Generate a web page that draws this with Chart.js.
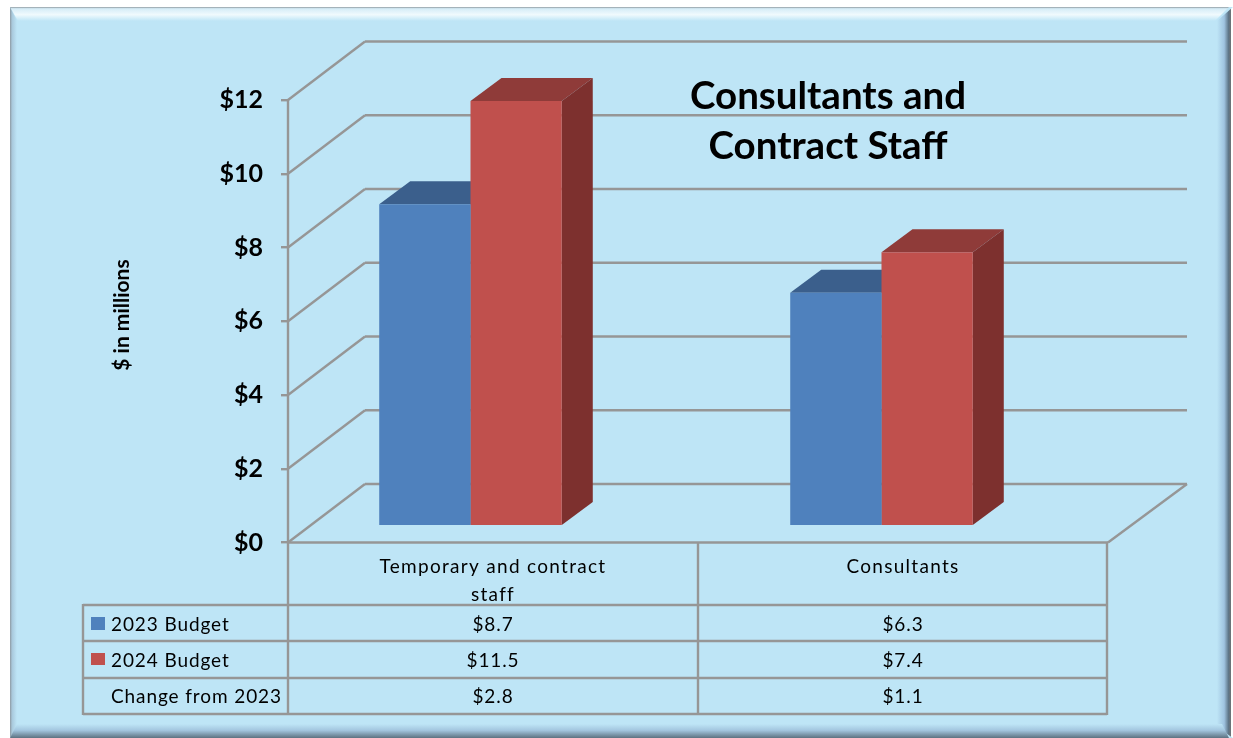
<!DOCTYPE html>
<html>
<head>
<meta charset="utf-8">
<title>Consultants and Contract Staff</title>
<script src="https://cdn.jsdelivr.net/npm/chart.js@4"></script>
<style>
    html, body { margin: 0; padding: 0; background: #fff; }
    canvas { display: block; }
</style>
</head>
<body>
<canvas id="chart" width="1233" height="738"></canvas>
<script>
const categories = [['Temporary and contract', 'staff'], ['Consultants']];
const seriesNames = ['2023 Budget', '2024 Budget'];
const budget2023 = [8.7, 6.3];
const budget2024 = [11.5, 7.4];
const changeLabel = 'Change from 2023';
const change = [2.8, 1.1];
const titleLines = ['Consultants and', 'Contract Staff'];
const yTitle = '$ in millions';

const BLUE = '#4f81bd', RED = '#c0504d';
const LINE = '#969696', BG = '#bee5f6';
const FONT = 'Lato, "Open Sans", sans-serif';
const money = v => '$' + v.toFixed(1);

// axis geometry
const AREA = { left: 288, right: 1108, top: 41, bottom: 542.5 };
const PX_PER_UNIT = 36.875;       // $1M in pixels
const WALL = { dx: 77, dy: 58.5 };   // depth of the back wall
const BAR_DEPTH = { dx: 31, dy: 23 };
const BAR_LIFT = 17.5;            // bars stand this far behind the front edge
const GROUP_GAP = 411, GROUP_0 = 470.5;
const TABLE = { left: 83, mid: 698, right: 1107, rows: [605, 641, 678, 714] };

const seg = (ctx, x1, y1, x2, y2) => {
    ctx.beginPath();
    ctx.moveTo(x1, y1);
    ctx.lineTo(x2, y2);
    ctx.stroke();
};
const poly = (ctx, pts, color) => {
    ctx.fillStyle = color;
    ctx.beginPath();
    pts.forEach((p, i) => i ? ctx.lineTo(p[0], p[1]) : ctx.moveTo(p[0], p[1]));
    ctx.closePath();
    ctx.fill();
};

const framePlugin = {
    id: 'frame',
    beforeDraw(chart) {
        const ctx = chart.ctx;
        const l = 10, t = 7, r = 1233, b = 738;
        ctx.save();
        ctx.fillStyle = BG;
        ctx.fillRect(l, t, r - l, b - t);

        let g = ctx.createLinearGradient(0, t, 0, t + 14);
        g.addColorStop(0, '#8f9aa0');
        g.addColorStop(0.12, '#d5ecf7');
        g.addColorStop(0.55, '#f0fafd');
        g.addColorStop(1, BG);
        poly(ctx, [[l, t], [1229, t], [1215, t + 14], [l + 8, t + 14]], g);

        g = ctx.createLinearGradient(l, 0, l + 7, 0);
        g.addColorStop(0, '#8e9aa2');
        g.addColorStop(0.3, '#a9c9dc');
        g.addColorStop(1, BG);
        poly(ctx, [[l, t], [l + 7, t + 14], [l + 7, 727], [l, b]], g);

        g = ctx.createLinearGradient(1217, 0, 1233, 0);
        g.addColorStop(0, BG);
        g.addColorStop(0.45, '#9fc3e0');
        g.addColorStop(0.72, '#5f7688');
        g.addColorStop(0.85, '#6c7378');
        g.addColorStop(0.86, '#ffffff');
        g.addColorStop(1, '#ffffff');
        poly(ctx, [[1217, t + 14], [1233, t], [1233, b], [1217, 727]], g);

        g = ctx.createLinearGradient(0, 724, 0, 738);
        g.addColorStop(0, BG);
        g.addColorStop(0.45, '#a3c6df');
        g.addColorStop(1, '#5d7281');
        poly(ctx, [[l + 7, 724], [1222, 724], [1229, b], [l, b]], g);

        ctx.restore();
    },
    beforeDatasetsDraw(chart) {
        const ctx = chart.ctx, y = chart.scales.y;
        const y0 = y.getPixelForValue(0), y12 = y.getPixelForValue(12);
        ctx.save();
        ctx.strokeStyle = LINE;
        ctx.lineWidth = 2.4;

        // back wall and left wall
        y.ticks.forEach(t => {
            const py = y.getPixelForValue(t.value);
            seg(ctx, AREA.left, py, AREA.left + WALL.dx, py - WALL.dy);
            seg(ctx, AREA.left + WALL.dx, py - WALL.dy, AREA.right + WALL.dx + 2, py - WALL.dy);
        });
        seg(ctx, AREA.left, y12, AREA.left, TABLE.rows[3]);

        // floor
        seg(ctx, AREA.left, y0, AREA.right, y0);
        seg(ctx, AREA.right, y0, AREA.right + WALL.dx + 2, y0 - WALL.dy);

        // table grid
        TABLE.rows.forEach(r => seg(ctx, TABLE.left, r, TABLE.right, r));
        seg(ctx, TABLE.left, TABLE.rows[0] - 1, TABLE.left, TABLE.rows[3] + 1);
        seg(ctx, TABLE.mid, y0, TABLE.mid, TABLE.rows[3]);
        seg(ctx, TABLE.right, y0, TABLE.right, TABLE.rows[3] + 1);

        // top and side faces of the bars, taken from the bars themselves
        const faces = [['#3b5f8c', '#3b5f8c'], ['#8f3b39', '#7d302e']];
        chart.data.datasets.forEach((ds, d) => {
            chart.getDatasetMeta(d).data.forEach(bar => {
                const x1 = bar.x - bar.width / 2, x2 = bar.x + bar.width / 2;
                const top = bar.y, base = bar.base;
                const dx = BAR_DEPTH.dx, dy = BAR_DEPTH.dy;
                poly(ctx, [[x1, top], [x1 + dx, top - dy], [x2 + dx, top - dy], [x2, top]], faces[d][0]);
                poly(ctx, [[x2, top], [x2 + dx, top - dy], [x2 + dx, base - dy], [x2, base]], faces[d][1]);
            });
        });
        ctx.restore();
    },
    afterDraw(chart) {
        const ctx = chart.ctx;
        const colCentre = [493, 903];
        const rowMid = [625, 661, 697];
        ctx.save();
        ctx.fillStyle = '#000';
        ctx.textBaseline = 'middle';

        // table rows
        ctx.font = '19px ' + FONT;
        ctx.letterSpacing = '0.9px';
        ctx.textAlign = 'left';
        [seriesNames[0], seriesNames[1], changeLabel].forEach((name, i) => ctx.fillText(name, 111, rowMid[i]));
        ctx.textAlign = 'center';
        [budget2023, budget2024, change].forEach((vals, i) => {
            vals.forEach((v, c) => ctx.fillText(money(v), colCentre[c], rowMid[i]));
        });
        ctx.fillStyle = BLUE;
        ctx.fillRect(91, 617, 14, 13);
        ctx.fillStyle = RED;
        ctx.fillRect(91, 653, 14, 12);

        // title
        ctx.letterSpacing = '0px';
        ctx.fillStyle = '#000';
        ctx.font = 'bold 38.5px ' + FONT;
        titleLines.forEach((line, i) => ctx.fillText(line, 828, 97 + i * 50));

        // y axis title
        ctx.font = 'bold 21px ' + FONT;
        ctx.translate(122, 315);
        ctx.rotate(-Math.PI / 2);
        ctx.fillText(yTitle, 0, 0);
        ctx.restore();
    }
};

new Chart(document.getElementById('chart'), {
    type: 'bar',
    data: {
        datasets: [
            { label: seriesNames[0], data: budget2023.map((v, i) => ({ x: i, y: v })), backgroundColor: BLUE, yAxisID: 'yBar' },
            { label: seriesNames[1], data: budget2024.map((v, i) => ({ x: i, y: v })), backgroundColor: RED, yAxisID: 'yBar' }
        ]
    },
    options: {
        responsive: false,
        animation: false,
        categoryPercentage: 183 / GROUP_GAP,
        barPercentage: 1,
        layout: { padding: { left: 0, top: AREA.top, right: 1233 - AREA.right, bottom: 0 } },
        plugins: { legend: { display: false }, title: { display: false }, tooltip: { enabled: false } },
        scales: {
            x: {
                type: 'linear',
                offset: false,
                min: (AREA.left - GROUP_0) / GROUP_GAP,
                max: (AREA.right - GROUP_0) / GROUP_GAP,
                grid: { display: false, drawTicks: false },
                border: { display: false },
                afterFit: s => { s.height = 738 - AREA.bottom; },
                afterBuildTicks: s => {
                    // labels sit in the middle of the table columns
                    s.ticks = [493, 903].map(px => ({ value: (px - GROUP_0) / GROUP_GAP }));
                },
                afterUpdate: s => {
                    // the category labels are spaced out wider than the rest
                    const drawLabels = s.drawLabels;
                    s.drawLabels = function (area) {
                        s.ctx.letterSpacing = '1.3px';
                        drawLabels.call(s, area);
                        s.ctx.letterSpacing = '0px';
                    };
                },
                ticks: {
                    color: '#000',
                    padding: 10,
                    autoSkip: false,
                    maxRotation: 0,
                    font: { family: FONT, size: 19, lineHeight: 1.47 },
                    callback: (v, i) => categories[i]
                }
            },
            y: {
                min: 0,
                max: (AREA.bottom - AREA.top) / PX_PER_UNIT,
                afterFit: s => { s.width = AREA.left; },
                grid: { drawOnChartArea: false, tickLength: 7, color: LINE, lineWidth: 2.4 },
                border: { display: false },
                ticks: {
                    stepSize: 2,
                    includeBounds: false,
                    color: '#000',
                    padding: 18,
                    font: { family: FONT, size: 25, weight: 'bold' },
                    callback: v => '$' + v
                }
            },
            yBar: {
                display: false,
                min: -BAR_LIFT / PX_PER_UNIT,
                max: (AREA.bottom - BAR_LIFT - AREA.top) / PX_PER_UNIT
            }
        }
    },
    plugins: [framePlugin]
});
</script>
</body>
</html>
